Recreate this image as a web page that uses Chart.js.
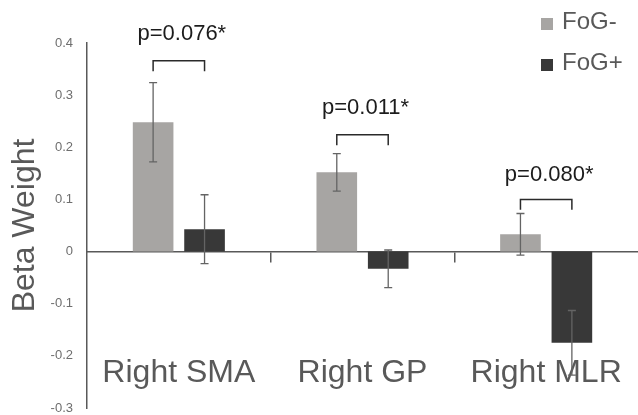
<!DOCTYPE html>
<html>
<head>
<meta charset="utf-8">
<script src="https://cdn.jsdelivr.net/npm/chart.js@4.4.1/dist/chart.umd.min.js"></script>
<style>
  html, body { margin: 0; padding: 0; background: #fff; }
  #wrap { width: 638px; height: 415px; position: relative; }
</style>
</head>
<body>
<div id="wrap"><canvas id="chart"></canvas></div>
<script>
  // values
  var categories = ['Right SMA', 'Right GP', 'Right MLR'];
  var seriesNames = ['FoG-', 'FoG+'];
  var fogMinus = [0.248, 0.152, 0.033];
  var fogPlus = [0.043, -0.033, -0.175];
  var fogMinusErr = [0.076, 0.036, 0.040];
  var fogPlusErr = [0.066, 0.036, 0.062];
  var pLabels = ['p=0.076*', 'p=0.011*', 'p=0.080*'];
  var pLabelY = [0.405, 0.264, 0.135];
  var bracketY = [0.366, 0.224, 0.100];
  var yTicks = [0.4, 0.3, 0.2, 0.1, 0, -0.1, -0.2, -0.3];

  var FONT = '"Liberation Sans", Arial, sans-serif';
  var colors = ['#a7a5a3', '#383838'];

  var extras = {
    id: 'extras',
    afterDatasetsDraw: function (chart) {
      var ctx = chart.ctx;
      var y = chart.scales.y;
      var errs = [fogMinusErr, fogPlusErr];
      ctx.save();

      // error bars
      ctx.strokeStyle = '#646464';
      ctx.lineWidth = 1.3;
      chart.data.datasets.forEach(function (ds, i) {
        var meta = chart.getDatasetMeta(i);
        meta.data.forEach(function (bar, j) {
          var v = ds.data[j], e = errs[i][j];
          var top = y.getPixelForValue(v + e);
          var bot = y.getPixelForValue(v - e);
          ctx.beginPath();
          ctx.moveTo(bar.x, top); ctx.lineTo(bar.x, bot);
          ctx.moveTo(bar.x - 4, top); ctx.lineTo(bar.x + 4, top);
          ctx.moveTo(bar.x - 4, bot); ctx.lineTo(bar.x + 4, bot);
          ctx.stroke();
        });
      });

      // significance brackets
      var m0 = chart.getDatasetMeta(0), m1 = chart.getDatasetMeta(1);
      ctx.strokeStyle = '#2a2a2a';
      ctx.lineWidth = 1.5;
      ctx.fillStyle = '#1c1c1c';
      ctx.font = '22px ' + FONT;
      ctx.textAlign = 'center';
      ctx.textBaseline = 'alphabetic';
      categories.forEach(function (c, j) {
        var x0 = m0.data[j].x, x1 = m1.data[j].x;
        var by = y.getPixelForValue(bracketY[j]);
        var leg = y.getPixelForValue(bracketY[j] - 0.02);
        ctx.beginPath();
        ctx.moveTo(x0, leg); ctx.lineTo(x0, by); ctx.lineTo(x1, by); ctx.lineTo(x1, leg);
        ctx.stroke();
        ctx.fillText(pLabels[j], (x0 + x1) / 2 + 3, y.getPixelForValue(pLabelY[j]));
      });

      // legend, top right
      var lx = chart.chartArea.right - 97;
      ctx.textAlign = 'left';
      ctx.font = '24px ' + FONT;
      seriesNames.forEach(function (name, i) {
        var base = 29 + i * 41;
        ctx.fillStyle = colors[i];
        ctx.fillRect(lx, base - 11, 12, 12);
        ctx.fillStyle = '#595959';
        ctx.fillText(name, lx + 21, base);
      });
      ctx.restore();
    }
  };

  new Chart(document.getElementById('chart').getContext('2d'), {
    type: 'bar',
    data: {
      labels: categories,
      datasets: [
        { label: seriesNames[0], data: fogMinus, backgroundColor: colors[0], categoryPercentage: 0.56, barPercentage: 0.79 },
        { label: seriesNames[1], data: fogPlus, backgroundColor: colors[1], categoryPercentage: 0.56, barPercentage: 0.79 }
      ]
    },
    options: {
      responsive: true,
      maintainAspectRatio: false,
      animation: false,
      devicePixelRatio: 1,
      events: [],
      layout: { padding: { top: 43, right: 0, bottom: 7, left: 0 } },
      plugins: {
        legend: { display: false },
        tooltip: { enabled: false }
      },
      scales: {
        x: {
          position: { y: 0 },
          offset: true,
          afterFit: function (scale) {
            // labels sit well inside the plot, so they need no room at the edges
            scale.paddingLeft = 0;
            scale.paddingRight = 0;
            scale.paddingTop = 0;
            scale.paddingBottom = 0;
          },
          grid: {
            display: true,
            drawOnChartArea: false,
            drawTicks: true,
            tickLength: 10,
            lineWidth: 1.5,
            offset: true,
            color: function (c) { return (c.index === 1 || c.index === 2) ? '#595959' : 'rgba(0,0,0,0)'; }
          },
          border: { display: true, color: '#595959', width: 1.5 },
          ticks: { padding: 92, color: '#595959', font: { size: 32, family: FONT } }
        },
        y: {
          min: -0.3,
          max: 0.4,
          afterBuildTicks: function (scale) {
            scale.ticks = yTicks.map(function (v) { return { value: v }; });
          },
          afterFit: function (scale) {
            scale.width = 87;
            scale.paddingTop = 0;
            scale.paddingBottom = 0;
          },
          grid: { display: false, drawTicks: false },
          border: { display: true, color: '#595959', width: 1.5 },
          ticks: {
            padding: 14,
            color: '#6e6e6e',
            font: { size: 13, family: FONT },
            callback: function (v) { return String(Math.round(v * 10) / 10); }
          },
          title: {
            display: true,
            text: 'Beta Weight',
            color: '#595959',
            font: { size: 32, family: FONT },
            padding: { top: 6, bottom: 0 }
          }
        }
      }
    },
    plugins: [extras]
  });
</script>
</body>
</html>
